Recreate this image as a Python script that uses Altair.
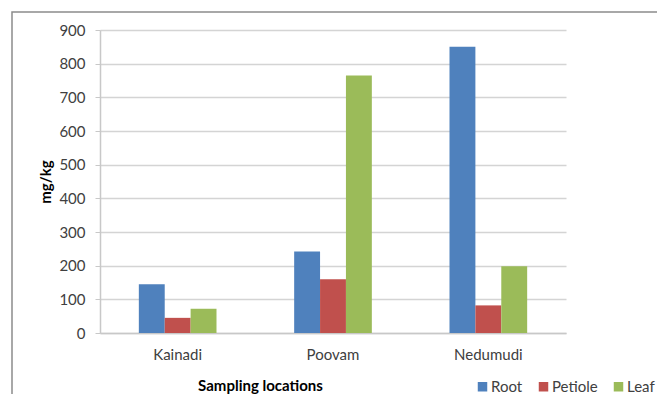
import altair as alt
import pandas as pd

locations = ["Kainadi", "Poovam", "Nedumudi"]
parts = ["Root", "Petiole", "Leaf"]
root = [145, 242, 850]
petiole = [45, 160, 82]
leaf = [72, 765, 198]
colors = ["#4F81BD", "#C0504D", "#9BBB59"]

rows = []
for i, loc in enumerate(locations):
    for part, vals in zip(parts, [root, petiole, leaf]):
        rows.append({"location": loc, "part": part, "value": vals[i]})
df = pd.DataFrame(rows)

FONT = "Lato"
TXT = "#404040"

bars = alt.Chart(df).mark_bar().encode(
    x=alt.X("location:N", sort=locations,
            scale=alt.Scale(paddingInner=0.5, paddingOuter=0.25),
            axis=alt.Axis(title="Sampling locations", labelAngle=0, ticks=False,
                          labelPadding=14, titlePadding=16, domainColor="#c8c8c8",
                          domainWidth=1.5, grid=False, titleX=160, titleAlign="center")),
    xOffset=alt.XOffset("part:N", sort=parts),
    y=alt.Y("value:Q", scale=alt.Scale(domain=[0, 900]),
            axis=alt.Axis(title="mg/kg", values=list(range(0, 901, 100)),
                          tickCount=10, tickSize=5, tickColor="#c8c8c8",
                          domainColor="#c8c8c8", domainWidth=1.5,
                          gridColor="#d4d4d4", gridWidth=1.5,
                          labelPadding=10, titlePadding=5)),
    color=alt.Color("part:N", sort=parts,
                    scale=alt.Scale(domain=parts, range=colors),
                    legend=alt.Legend(title=None, orient="none", direction="horizontal",
                                      legendX=375, legendY=349, symbolType="square",
                                      symbolSize=90, symbolStrokeWidth=0,
                                      columnPadding=13, labelOffset=1)),
)

frame = alt.Chart(pd.DataFrame({"a": [0]})).mark_rect(
    fill=None, stroke="#8c8c8c", strokeWidth=1.5
).encode(x=alt.value(-88), x2=alt.value(700), y=alt.value(-18), y2=alt.value(420))

chart = alt.layer(frame, bars).properties(
    width=466, height=303,
    padding={"left": 92, "top": 22, "right": 91, "bottom": 61},
    autosize=alt.AutoSizeParams(type="none"),
).configure_view(stroke=None).configure_axis(
    labelFont=FONT, titleFont=FONT, labelFontSize=15, titleFontSize=15,
    labelColor=TXT, titleColor="#000000", titleFontWeight="bold",
).configure_legend(labelFont=FONT, labelFontSize=15, labelColor=TXT)

chart.save("out.html", embed_options={"renderer": "svg", "actions": False})
